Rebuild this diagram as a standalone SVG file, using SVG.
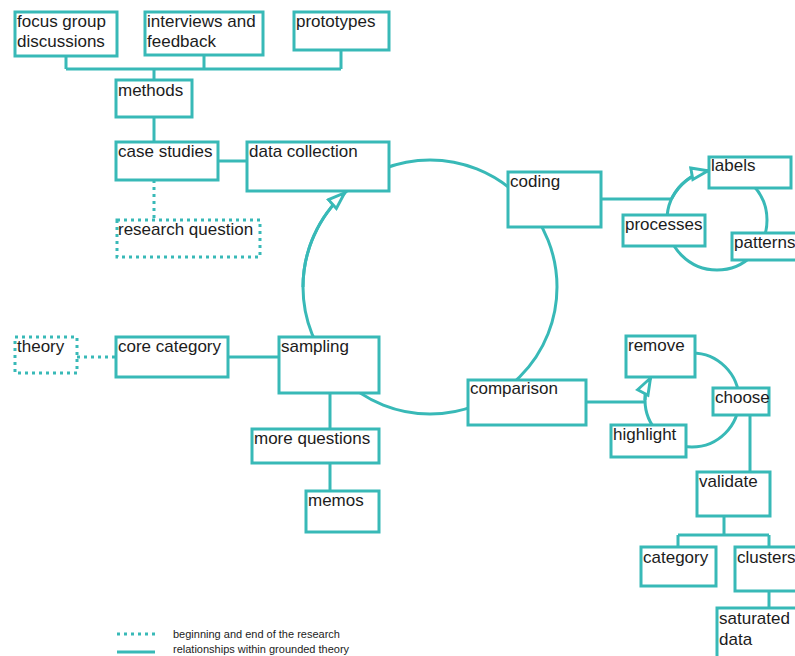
<svg xmlns="http://www.w3.org/2000/svg" width="795" height="656" viewBox="0 0 795 656">
<style>
.b{fill:#fff;stroke:#38b9b7;stroke-width:3}
.d{fill:#fff;stroke:#38b9b7;stroke-width:3;stroke-dasharray:3 4}
.l{fill:none;stroke:#38b9b7;stroke-width:3}
.ld{fill:none;stroke:#38b9b7;stroke-width:3;stroke-dasharray:3 4}
text{font-family:"Liberation Sans",Arial,sans-serif;font-size:17px;fill:#1c1c1c}
.s{font-size:11px}
</style>
<defs>
<marker id="ah" markerUnits="userSpaceOnUse" markerWidth="20" markerHeight="16" viewBox="0 0 17 13" refX="15.5" refY="6.5" orient="auto">
<path d="M1.5,1.5 L15.5,6.5 L1.5,11.5 Z" fill="#fff" stroke="#38b9b7" stroke-width="2.5"/>
</marker>
</defs>
<g id="connectors">
<circle class="l" cx="430" cy="287" r="127"/>
<path class="l" d="M303,287 A127,127 0 0 1 344.6,193" marker-end="url(#ah)"/>
<circle class="l" cx="717" cy="220" r="50"/>
<path class="l" d="M672,198.2 A50,50 0 0 1 708,170.8" marker-end="url(#ah)"/>
<circle class="l" cx="692" cy="400" r="47"/>
<path class="l" d="M645,400 A47,47 0 0 1 650.5,378" marker-end="url(#ah)"/>
<path class="l" d="M66,56 V69 M204,55 V69 M341,50 V69 M66,69 H341 M154,69 V80"/>
<path class="l" d="M154,117 V142"/>
<path class="l" d="M218,161 H247"/>
<path class="ld" d="M154,180 V220"/>
<path class="l" d="M601,199 H672"/>
<path class="l" d="M586,402 H645"/>
<path class="l" d="M750,415 V472"/>
<path class="l" d="M724,516 V535 M678,535 H769 M678,535 V547 M769,535 V547"/>
<path class="l" d="M769,591 V608"/>
<path class="ld" d="M77,357 H116"/>
<path class="l" d="M228,357 H279"/>
<path class="l" d="M330,393 V429 M330,463 V491"/>
</g>
<g id="n-focus"><rect class="b" x="15" y="12" width="102" height="44"/><text x="17" y="27">focus group</text><text x="17" y="47">discussions</text></g>
<g id="n-interviews"><rect class="b" x="145" y="12" width="118" height="43"/><text x="147" y="27">interviews and</text><text x="147" y="47">feedback</text></g>
<g id="n-prototypes"><rect class="b" x="294" y="12" width="95" height="38"/><text x="296" y="27">prototypes</text></g>
<g id="n-methods"><rect class="b" x="116" y="80" width="76" height="37"/><text x="118" y="96">methods</text></g>
<g id="n-case"><rect class="b" x="116" y="142" width="102" height="38"/><text x="118" y="157">case studies</text></g>
<g id="n-datacollection"><rect class="b" x="247" y="142" width="142" height="49"/><text x="249" y="157">data collection</text></g>
<g id="n-research"><rect class="d" x="117" y="220" width="143" height="37"/><text x="118" y="235">research question</text></g>
<g id="n-coding"><rect class="b" x="508" y="172" width="93" height="55"/><text x="510" y="187">coding</text></g>
<g id="n-labels"><rect class="b" x="709" y="157" width="82" height="31"/><text x="711" y="171">labels</text></g>
<g id="n-processes"><rect class="b" x="623" y="215" width="82" height="31"/><text x="625" y="230">processes</text></g>
<g id="n-patterns"><rect class="b" x="732" y="233" width="80" height="27"/><text x="734" y="248">patterns</text></g>
<g id="n-theory"><rect class="d" x="15" y="337" width="62" height="36"/><text x="17" y="352">theory</text></g>
<g id="n-core"><rect class="b" x="116" y="337" width="112" height="40"/><text x="118" y="352">core category</text></g>
<g id="n-sampling"><rect class="b" x="279" y="337" width="100" height="56"/><text x="281" y="352">sampling</text></g>
<g id="n-morequestions"><rect class="b" x="252" y="429" width="127" height="34"/><text x="254" y="444">more questions</text></g>
<g id="n-memos"><rect class="b" x="306" y="491" width="73" height="41"/><text x="308" y="506">memos</text></g>
<g id="n-comparison"><rect class="b" x="468" y="380" width="118" height="45"/><text x="470" y="394">comparison</text></g>
<g id="n-remove"><rect class="b" x="626" y="336" width="69" height="41"/><text x="628" y="351">remove</text></g>
<g id="n-highlight"><rect class="b" x="611" y="425" width="75" height="32"/><text x="613" y="440">highlight</text></g>
<g id="n-choose"><rect class="b" x="713" y="388" width="56" height="27"/><text x="715" y="403">choose</text></g>
<g id="n-validate"><rect class="b" x="697" y="472" width="73" height="44"/><text x="699" y="487">validate</text></g>
<g id="n-category"><rect class="b" x="641" y="547" width="75" height="39"/><text x="643" y="563">category</text></g>
<g id="n-clusters"><rect class="b" x="735" y="547" width="75" height="44"/><text x="737" y="563">clusters</text></g>
<g id="n-saturated"><rect class="b" x="717" y="608" width="90" height="60"/><text x="719" y="624">saturated</text><text x="719" y="645">data</text></g>
<g id="legend">
<path class="ld" d="M117,634 H155"/>
<path class="l" d="M117,652 H155"/>
<text class="s" x="173" y="638">beginning and end of the research</text>
<text class="s" x="173" y="653">relationships within grounded theory</text>
</g>
</svg>
